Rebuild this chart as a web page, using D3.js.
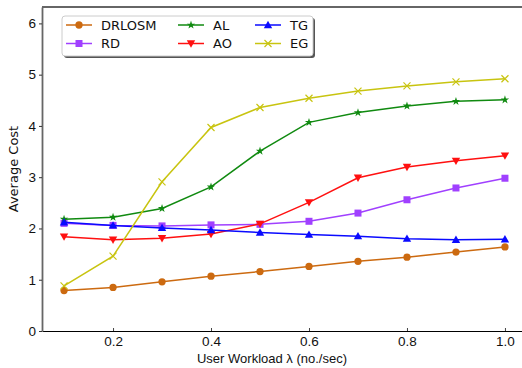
<!DOCTYPE html>
<html>
<head>
<meta charset="utf-8">
<script src="https://cdn.jsdelivr.net/npm/d3@7"></script>
<style>
  body { margin: 0; background: #fff; }
  svg { display: block; font-family: "DejaVu Sans", sans-serif; }
</style>
</head>
<body>
<svg id="chart" width="522" height="368"></svg>
<script>
// workload values on x
const workload = [0.1, 0.2, 0.3, 0.4, 0.5, 0.6, 0.7, 0.8, 0.9, 1.0];

// average cost per method
const drlosm = [0.79, 0.85, 0.96, 1.07, 1.16, 1.26, 1.36, 1.44, 1.54, 1.64];
const rd     = [2.10, 2.06, 2.05, 2.07, 2.08, 2.14, 2.30, 2.56, 2.79, 2.98];
const al     = [2.18, 2.22, 2.39, 2.81, 3.51, 4.07, 4.26, 4.39, 4.48, 4.51];
const ao     = [1.84, 1.78, 1.81, 1.89, 2.09, 2.51, 2.99, 3.20, 3.32, 3.42];
const tg     = [2.12, 2.06, 2.01, 1.97, 1.92, 1.88, 1.85, 1.80, 1.78, 1.79];
const eg     = [0.88, 1.46, 2.91, 3.97, 4.36, 4.54, 4.68, 4.78, 4.86, 4.92];

const xTicks = [0.2, 0.4, 0.6, 0.8, 1.0];
const yTicks = [0, 1, 2, 3, 4, 5, 6];

const series = [
    {name: "DRLOSM", values: drlosm, color: "#cc6a10", marker: "circle"},
    {name: "RD",     values: rd,     color: "#a040ff", marker: "square"},
    {name: "AL",     values: al,     color: "#108a10", marker: "star"},
    {name: "AO",     values: ao,     color: "#ff1010", marker: "tridown"},
    {name: "TG",     values: tg,     color: "#0a0aff", marker: "triup"},
    {name: "EG",     values: eg,     color: "#c8c410", marker: "x"}
];

const margin = {left: 42, top: 7, right: -5, bottom: 37};
const W = 522, H = 368;

const svg = d3.select("#chart");

const x = d3.scaleLinear().domain([0.055, 1.045]).range([margin.left, W - margin.right]);
const y = d3.scaleLinear().domain([0, 6.32]).range([H - margin.bottom, margin.top]);

// clip so lines stay inside the axes
svg.append("clipPath").attr("id", "plotclip")
    .append("rect")
    .attr("x", margin.left).attr("y", margin.top)
    .attr("width", W - margin.right - margin.left)
    .attr("height", H - margin.bottom - margin.top);

// axes
const xAxis = svg.append("g")
    .attr("transform", `translate(0,${H - margin.bottom})`)
    .call(d3.axisBottom(x).tickValues(xTicks).tickFormat(d3.format(".1f")).tickSizeInner(-3).tickSizeOuter(0));
xAxis.select(".domain").attr("stroke", "#000").attr("stroke-width", 1.2);
xAxis.selectAll(".tick line").attr("stroke", "#444");
xAxis.selectAll("text").attr("font-size", 13.5).attr("fill", "#111").attr("y", 5);

const yAxis = svg.append("g")
    .attr("transform", `translate(${margin.left},0)`)
    .call(d3.axisLeft(y).tickValues(yTicks).tickFormat(d3.format("d")).tickSizeInner(3).tickSizeOuter(0));
yAxis.select(".domain").attr("stroke", "#666").attr("stroke-width", 1.8);
yAxis.selectAll(".tick line").attr("stroke", "#333");
yAxis.selectAll("text").attr("font-size", 13.5).attr("fill", "#111").attr("x", -6);

// top spine
svg.append("line")
    .attr("x1", margin.left).attr("x2", W)
    .attr("y1", margin.top).attr("y2", margin.top)
    .attr("stroke", "#666").attr("stroke-width", 1.8);

// axis labels
svg.append("text")
    .attr("x", 272).attr("y", 362.5)
    .attr("text-anchor", "middle")
    .attr("font-family", "Liberation Sans, Arial, sans-serif")
    .attr("font-size", 13)
    .attr("fill", "#111")
    .text("User Workload λ (no./sec)");

svg.append("text")
    .attr("transform", `translate(18,${(margin.top + H - margin.bottom) / 2}) rotate(-90)`)
    .attr("text-anchor", "middle")
    .attr("font-size", 13)
    .attr("fill", "#111")
    .text("Average Cost");

// marker drawing
function drawMarker(g, kind, color, s) {
    if (kind === "circle") {
        g.append("circle").attr("r", s * 0.52).attr("fill", color);
    } else if (kind === "square") {
        g.append("rect").attr("x", -s * 0.5).attr("y", -s * 0.5).attr("width", s).attr("height", s).attr("fill", color);
    } else if (kind === "star") {
        g.append("path").attr("d", d3.symbol(d3.symbolStar, s * s * 0.45)()).attr("fill", color);
    } else if (kind === "triup") {
        g.append("path").attr("d", `M0,${-s * 0.6}L${s * 0.6},${s * 0.45}L${-s * 0.6},${s * 0.45}Z`).attr("fill", color);
    } else if (kind === "tridown") {
        g.append("path").attr("d", `M0,${s * 0.6}L${s * 0.6},${-s * 0.45}L${-s * 0.6},${-s * 0.45}Z`).attr("fill", color);
    } else if (kind === "x") {
        const h = s * 0.5;
        g.append("path").attr("d", `M${-h},${-h}L${h},${h}M${-h},${h}L${h},${-h}`)
            .attr("stroke", color).attr("stroke-width", 1.2).attr("fill", "none");
    }
}

const plot = svg.append("g").attr("clip-path", "url(#plotclip)");
const line = d3.line().x((d, i) => x(workload[i])).y(d => y(d));

series.forEach(s => {
    plot.append("path")
        .datum(s.values)
        .attr("d", line)
        .attr("fill", "none")
        .attr("stroke", s.color)
        .attr("stroke-width", 1.5);
    s.values.forEach((v, i) => {
        const g = plot.append("g").attr("transform", `translate(${x(workload[i])},${y(v)})`);
        drawMarker(g, s.marker, s.color, 7);
    });
});

// legend
const legend = svg.append("g");
const lx = 62, ly = 16, lw = 251, lh = 40;
legend.append("rect")
    .attr("x", lx + 2).attr("y", ly + 2).attr("width", lw).attr("height", lh).attr("rx", 3)
    .attr("fill", "#555");
legend.append("rect")
    .attr("x", lx).attr("y", ly).attr("width", lw).attr("height", lh).attr("rx", 3)
    .attr("fill", "#fff").attr("stroke", "#ccc").attr("stroke-width", 1);

const colX = [66, 178, 255];
const rowY = [25, 43.5];
series.forEach((s, i) => {
    const col = Math.floor(i / 2), row = i % 2;
    const gx = colX[col], gy = rowY[row];
    legend.append("line")
        .attr("x1", gx).attr("x2", gx + 26).attr("y1", gy).attr("y2", gy)
        .attr("stroke", s.color).attr("stroke-width", 1.5);
    const g = legend.append("g").attr("transform", `translate(${gx + 13},${gy})`);
    drawMarker(g, s.marker, s.color, 7);
    legend.append("text")
        .attr("x", gx + 35).attr("y", gy + 4.5)
        .attr("font-size", 13).attr("fill", "#111")
        .text(s.name);
});
</script>
</body>
</html>
